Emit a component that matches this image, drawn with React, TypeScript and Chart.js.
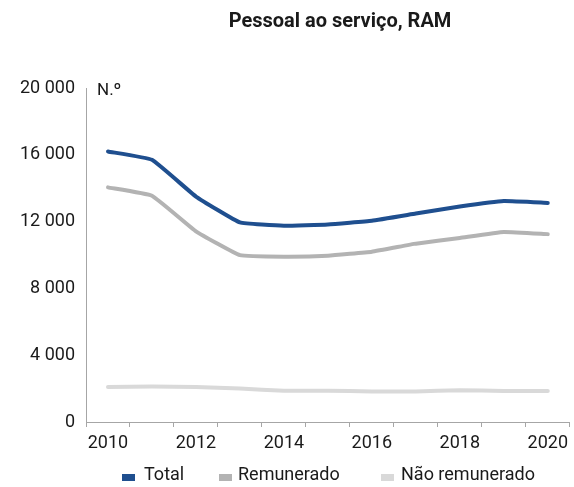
import React, { useEffect, useRef } from "react";
import { Chart, registerables } from "chart.js";

Chart.register(...registerables);

const years = ["2010", "2011", "2012", "2013", "2014", "2015", "2016", "2017", "2018", "2019", "2020"];
const total = [16200, 15700, 13500, 11950, 11750, 11830, 12050, 12480, 12900, 13230, 13120];
const remunerado = [14050, 13550, 11420, 9990, 9900, 9960, 10200, 10680, 11020, 11380, 11250];
const naoRemunerado = [2100, 2130, 2100, 2000, 1870, 1870, 1830, 1830, 1900, 1860, 1860];
const seriesNames = ["Total", "Remunerado", "Não remunerado"];
const seriesColors = ["#1f4f8f", "#b3b3b3", "#d9d9d9"];
const titleText = "Pessoal ao serviço, RAM";
const unitText = "N.º";

const FONT = "Roboto, 'Noto Sans', sans-serif";

const fmt = (v: number) => {
  const s = Math.round(v).toString();
  return s.replace(/\B(?=(\d{3})+(?!\d))/g, " ");
};

const decorPlugin = {
  id: "decor",
  afterDraw(chart: any) {
    const ctx = chart.ctx;
    const area = chart.chartArea;
    ctx.save();
    // title
    ctx.fillStyle = "#1a1a1a";
    ctx.font = `bold 20px ${FONT}`;
    ctx.textAlign = "center";
    ctx.textBaseline = "middle";
    ctx.fillText(titleText, 340, 22);
    // unit label
    ctx.font = `17px ${FONT}`;
    ctx.textAlign = "left";
    ctx.fillText(unitText, area.left + 11, area.top + 3);
    // legend
    ctx.font = `18px ${FONT}`;
    const boxX = [122, 219, 381];
    const textX = [144, 238, 401];
    chart.data.datasets.forEach((ds: any, i: number) => {
      ctx.fillStyle = ds.borderColor;
      ctx.fillRect(boxX[i], 474, 13, 7);
      ctx.fillStyle = "#1a1a1a";
      ctx.textAlign = "left";
      ctx.textBaseline = "middle";
      ctx.fillText(ds.label, textX[i], 475);
    });
    ctx.restore();
  },
};

export default function App() {
  const ref = useRef<HTMLCanvasElement | null>(null);
  useEffect(() => {
    if (!ref.current) return;
    const mk = (label: string, data: number[], color: string) => ({
      label,
      data,
      borderColor: color,
      backgroundColor: color,
      borderWidth: 4,
      pointRadius: 0,
      tension: 0.1,
      borderCapStyle: "round" as const,
      borderJoinStyle: "round" as const,
    });
    const chart = new Chart(ref.current, {
      type: "line",
      data: {
        labels: years,
        datasets: [
          mk(seriesNames[0], total, seriesColors[0]),
          mk(seriesNames[1], remunerado, seriesColors[1]),
          mk(seriesNames[2], naoRemunerado, seriesColors[2]),
        ],
      },
      options: {
        animation: false,
        responsive: false,
        layout: { padding: { top: 88, left: 0, right: 0, bottom: 35 } },
        plugins: { legend: { display: false }, title: { display: false }, tooltip: { enabled: false } },
        scales: {
          x: {
            type: "category",
            offset: true,
            grid: { display: true, offset: true, drawOnChartArea: false, drawTicks: true, tickLength: 5, color: "#a6a6a6" },
            border: { display: true, color: "#a6a6a6", width: 1 },
            ticks: {
              autoSkip: false,
              maxRotation: 0,
              padding: 6,
              color: "#1a1a1a",
              font: { family: FONT, size: 18 },
              callback: (_v: any, i: number) => (i % 2 === 0 ? years[i] : ""),
            },
            afterFit: (s: any) => { s.height = 30; },
          },
          y: {
            min: 0,
            max: 20000,
            grid: { display: true, drawOnChartArea: false, drawTicks: false, color: "#a6a6a6" },
            border: { display: true, color: "#a6a6a6", width: 1 },
            ticks: {
              stepSize: 4000,
              padding: 11,
              color: "#1a1a1a",
              font: { family: FONT, size: 18 },
              callback: (v: any) => fmt(Number(v)),
            },
            afterFit: (s: any) => { s.width = 86; },
          },
        },
      },
      plugins: [decorPlugin],
    });
    return () => chart.destroy();
  }, []);
  return (
    <div style={{ position: "absolute", left: 0, top: 0, width: 574, height: 487, background: "#fff" }}>
      <canvas ref={ref} width={574} height={487} style={{ width: 574, height: 487 }} />
    </div>
  );
}
